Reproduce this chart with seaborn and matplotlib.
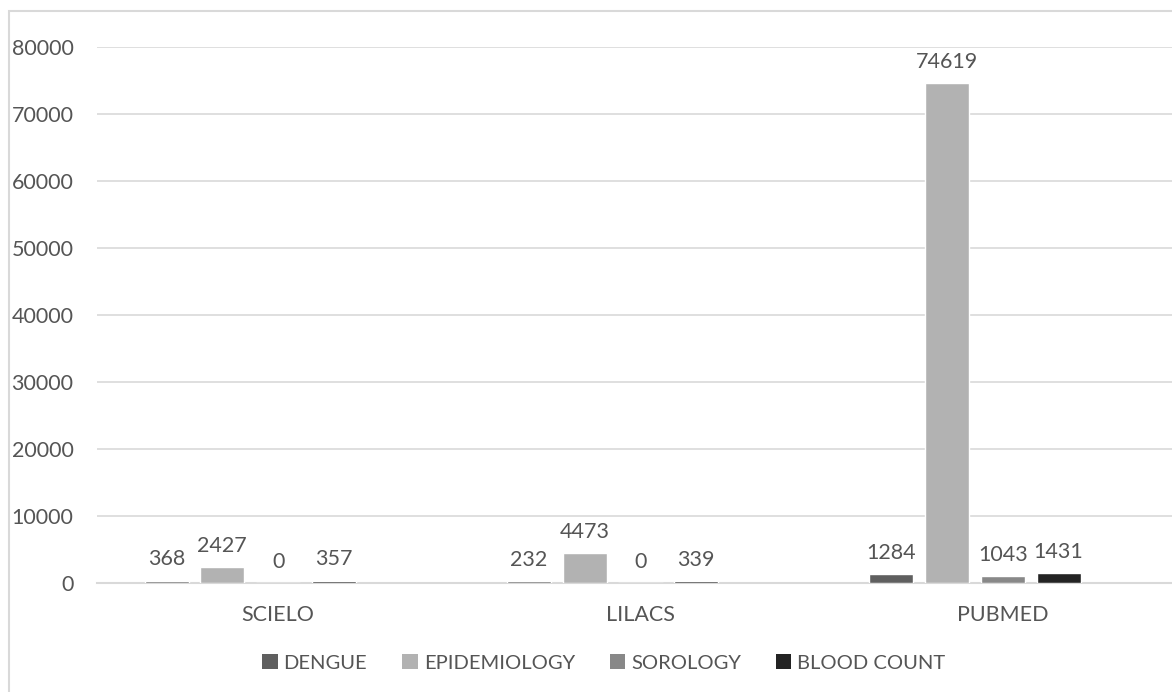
import matplotlib
matplotlib.use("Agg")
import matplotlib.pyplot as plt
from matplotlib.patches import Patch, Rectangle
import seaborn as sns
import pandas as pd
import numpy as np

categories = ["SCIELO", "LILACS", "PUBMED"]
series = ["DENGUE", "EPIDEMIOLOGY", "SOROLOGY", "BLOOD COUNT"]
dengue = [368, 232, 1284]
epidemiology = [2427, 4473, 74619]
sorology = [0, 0, 1043]
blood_count = [357, 339, 1431]
yticks = [0, 10000, 20000, 30000, 40000, 50000, 60000, 70000, 80000]

colors = {"DENGUE": "#5f5f5f", "EPIDEMIOLOGY": "#b2b2b2",
          "SOROLOGY": "#888888", "BLOOD COUNT": "#232323", "_blank": "#ffffff"}

values = {"DENGUE": dengue, "EPIDEMIOLOGY": epidemiology,
          "SOROLOGY": sorology, "BLOOD COUNT": blood_count}
rows = []
for s in series:
    for c, v in zip(categories, values[s]):
        rows.append({"cat": c, "series": s, "value": v})
for c in categories:
    rows.append({"cat": c, "series": "_blank", "value": np.nan})
df = pd.DataFrame(rows)

sns.set_style("white")
plt.rcParams["font.family"] = ["Lato", "DejaVu Sans"]
text_color = "#555555"
grid_color = "#d9d9d9"
FS = 15.5

fig = plt.figure(figsize=(11.72, 6.92), dpi=100)
W, H = 1172, 692
ax = fig.add_axes([97 / W, 1 - 583 / H, (1184 - 97) / W, (583 - 47) / H])

sns.barplot(data=df, x="cat", y="value", hue="series",
            hue_order=series + ["_blank"], order=categories,
            palette=colors, width=0.77, gap=0.21, dodge=True,
            legend=False, ax=ax, errorbar=None, saturation=1)

for p in ax.patches:
    p.set_zorder(3)
    h = p.get_height()
    if np.isnan(h) or p.get_facecolor()[:3] == (1.0, 1.0, 1.0):
        continue
    ax.annotate(f"{h:.0f}", (p.get_x() + p.get_width() / 2, h),
                xytext=(0, 8), textcoords="offset points",
                ha="center", va="bottom", fontsize=FS, color=text_color)

ax.set_xlim(-0.5, 2.5)
ax.set_ylim(0, 80000)
ax.set_yticks(yticks)
ax.set_yticklabels([str(t) for t in yticks])
ax.yaxis.grid(True, color=grid_color, linewidth=1.2)
ax.set_axisbelow(True)
for s in ["top", "right", "left"]:
    ax.spines[s].set_visible(False)
ax.spines["bottom"].set_color(grid_color)
ax.spines["bottom"].set_linewidth(1.5)
ax.spines["bottom"].set_zorder(2)
ax.tick_params(axis="both", length=0, labelsize=FS, labelcolor=text_color)
ax.tick_params(axis="y", pad=17)
ax.tick_params(axis="x", pad=16)
ax.set_xlabel("")
ax.set_ylabel("")

handles = [Patch(facecolor=colors[s], edgecolor="none") for s in series]
fig.legend(handles, series, loc="center", bbox_to_anchor=(604 / W, 1 - 663 / H),
           ncol=4, frameon=False, fontsize=14.5, labelcolor=text_color,
           handlelength=0.75, handleheight=0.75, handletextpad=0.3,
           columnspacing=1.75)

fig.patches.append(Rectangle((9 / W, -0.1), 1.2, 1 - 11 / H + 0.1,
                             transform=fig.transFigure, fill=False,
                             edgecolor=grid_color, linewidth=1.5))

fig.savefig("out.png", dpi=100)
